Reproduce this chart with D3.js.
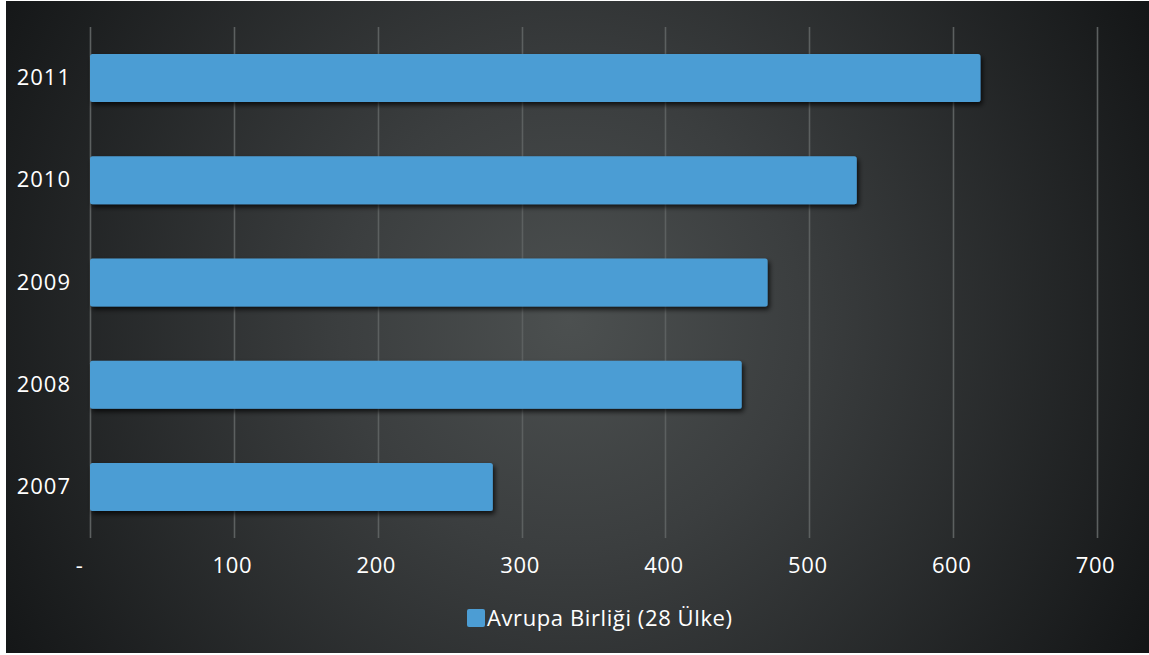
<!DOCTYPE html>
<html>
<head>
<meta charset="utf-8">
<script src="https://cdn.jsdelivr.net/npm/d3@7"></script>
<style>
  html, body { margin: 0; padding: 0; background: #ffffff; }
  svg { display: block; font-family: "Open Sans", sans-serif; }
</style>
</head>
<body>
<div id="chart"></div>
<script>
var years = ['2011', '2010', '2009', '2008', '2007'];
var values = [619, 533, 471, 453, 280];
var xTicks = [0, 100, 200, 300, 400, 500, 600, 700];
var seriesName = 'Avrupa Birliği (28 Ülke)';

var width = 1149, height = 655;
var margins = {top: 27, left: 90, right: 52, bottom: 117};
var w = width - margins.left - margins.right;
var h = height - margins.top - margins.bottom;
var fontSize = '22px';

var svg = d3.select('#chart').append('svg')
    .attr('width', width)
    .attr('height', height);

var defs = svg.append('defs');
var grad = defs.append('radialGradient')
    .attr('id', 'bg')
    .attr('gradientUnits', 'userSpaceOnUse')
    .attr('cx', 570).attr('cy', 320).attr('r', 660);
grad.append('stop').attr('offset', '0').attr('stop-color', '#4c5050');
grad.append('stop').attr('offset', '0.35').attr('stop-color', '#3b3e3f');
grad.append('stop').attr('offset', '1').attr('stop-color', '#141617');

var shadow = defs.append('filter').attr('id', 'shadow')
    .attr('x', '-5%').attr('y', '-30%').attr('width', '110%').attr('height', '170%');
shadow.append('feDropShadow')
    .attr('dx', 2).attr('dy', 3).attr('stdDeviation', 2.5)
    .attr('flood-color', '#000').attr('flood-opacity', 0.75);

// chart area background (thin light edge on left and bottom like the original)
svg.append('rect')
    .attr('x', 6).attr('y', 1)
    .attr('width', width - 6).attr('height', height - 3)
    .attr('fill', 'url(#bg)');

var x = d3.scaleLinear().domain([0, 700]).range([0, w]);
var y = d3.scaleBand().domain(years).range([0, h]).paddingInner(0.53).paddingOuter(0.265);

var g = svg.append('g')
    .attr('transform', 'translate(' + margins.left + ',' + margins.top + ')');

// gridlines
g.selectAll('line.grid').data(xTicks).enter().append('line')
    .attr('class', 'grid')
    .attr('x1', function(d) { return Math.round(x(d)) + 0.5; })
    .attr('x2', function(d) { return Math.round(x(d)) + 0.5; })
    .attr('y1', 0).attr('y2', h)
    .attr('stroke', '#5c6060')
    .attr('stroke-width', 1.6);

// bars
g.selectAll('rect.bar').data(values).enter().append('rect')
    .attr('class', 'bar')
    .attr('x', 0)
    .attr('y', function(d, i) { return y(years[i]); })
    .attr('width', function(d) { return x(d); })
    .attr('height', y.bandwidth())
    .attr('rx', 2.5)
    .attr('fill', '#4c9dd4')
    .attr('filter', 'url(#shadow)');

// x axis labels
var xAxis = d3.axisBottom(x)
    .tickValues(xTicks)
    .tickSize(0)
    .tickFormat(function(d) { return d === 0 ? '-' : d3.format('d')(d); });
var xg = g.append('g')
    .attr('transform', 'translate(0,' + (h + 16) + ')')
    .call(xAxis);
xg.select('.domain').remove();
xg.selectAll('text')
    .attr('fill', '#ffffff')
    .style('font-size', fontSize)
    .style('letter-spacing', '0.6px')
    .style('font-family', '"Open Sans", sans-serif')
    .attr('dx', function(d) { return d === 0 ? -11 : -2; });

// y axis labels
var yAxis = d3.axisLeft(y).tickSize(0).tickPadding(19);
var yg = g.append('g').call(yAxis);
yg.select('.domain').remove();
yg.selectAll('text')
    .attr('fill', '#ffffff')
    .style('font-size', fontSize)
    .style('letter-spacing', '1px')
    .style('font-family', '"Open Sans", sans-serif');

// legend
var legend = svg.append('g').attr('transform', 'translate(467,609)');
legend.append('rect')
    .attr('width', 18).attr('height', 18)
    .attr('rx', 2)
    .attr('fill', '#4c9dd4');
legend.append('text')
    .attr('x', 20).attr('y', 9)
    .attr('dy', '0.35em')
    .attr('fill', '#ffffff')
    .style('font-size', fontSize)
    .style('letter-spacing', '0.6px')
    .text(seriesName);
</script>
</body>
</html>
